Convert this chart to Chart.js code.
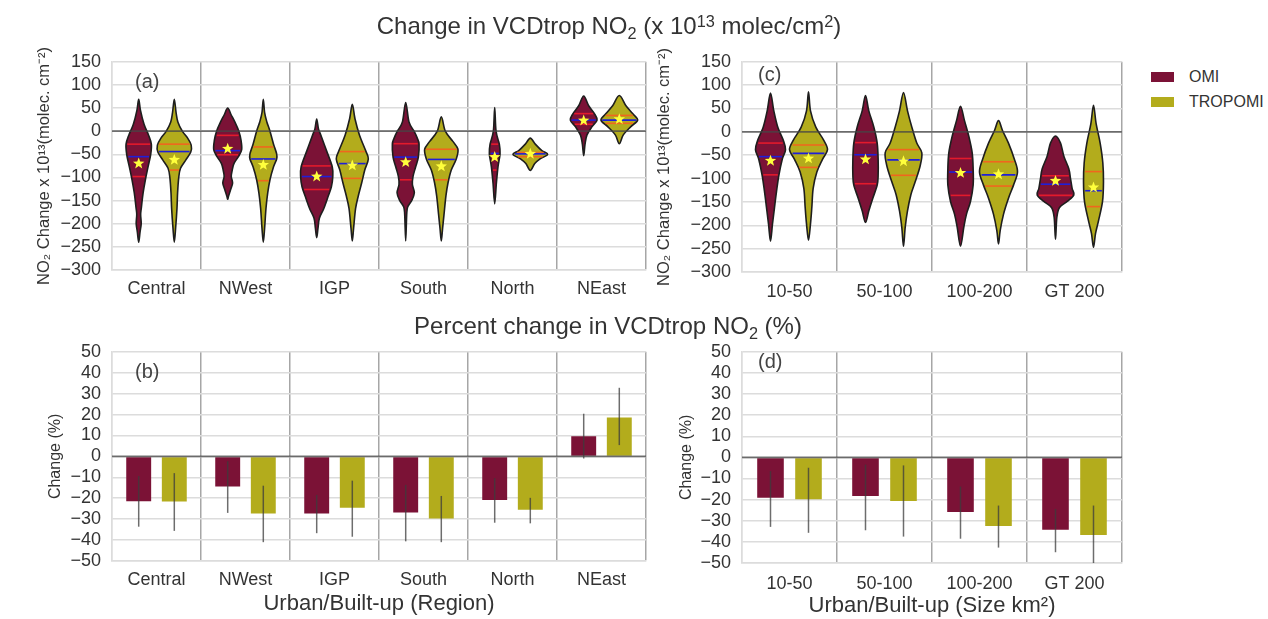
<!DOCTYPE html>
<html>
<head>
<meta charset="utf-8">
<title>Change in VCDtrop NO2</title>
<script src="https://cdn.jsdelivr.net/npm/chart.js@4.4.0/dist/chart.umd.min.js"></script>
<style>
  body { margin: 0; background: #fff; font-family: 'Liberation Sans', Arial, sans-serif; }
  #fig { position: relative; width: 1268px; height: 619px; overflow: hidden; background: #fff; }
  .panel { position: absolute; }
  .txt { position: absolute; color: #333; white-space: nowrap; line-height: 1; z-index: 2; }
  .head { font-size: 24px; transform: translateX(-50%); }
  .tag { font-size: 20px; color: #444; }
  .sub { font-size: 0.68em; position: relative; top: 0.3em; }
  .sup { font-size: 0.68em; position: relative; top: -0.45em; }
  .legend { position: absolute; left: 1151px; top: 64px; font-size: 16px; color: #333; }
  .legend div { display: flex; align-items: center; height: 25px; }
  .legend span.patch { display: inline-block; width: 23px; height: 10px; margin-right: 15px; }
</style>
</head>
<body>
<div id="fig">
  <div class="txt head" style="left:609px; top:14px;">Change in VCDtrop NO<span class="sub">2</span> (x 10<span class="sup">13</span> molec/cm<span class="sup">2</span>)</div>
  <div class="txt head" style="left:608px; top:314px;">Percent change in VCDtrop NO<span class="sub">2</span> (%)</div>

  <div class="txt tag" style="left:135px; top:71px;">(a)</div>
  <div class="txt tag" style="left:135px; top:361px;">(b)</div>
  <div class="txt tag" style="left:758px; top:64px;">(c)</div>
  <div class="txt tag" style="left:758px; top:351px;">(d)</div>

  <div class="legend">
    <div><span class="patch" style="background:#7b1236"></span>OMI</div>
    <div><span class="patch" style="background:#b3ac1c"></span>TROPOMI</div>
  </div>

  <div class="panel" style="left:30px; top:40px;"><canvas id="chartA" width="625" height="275"></canvas></div>
  <div class="panel" style="left:30px; top:330px;"><canvas id="chartB" width="625" height="289"></canvas></div>
  <div class="panel" style="left:655px; top:40px;"><canvas id="chartC" width="477" height="275"></canvas></div>
  <div class="panel" style="left:655px; top:330px;"><canvas id="chartD" width="477" height="289"></canvas></div>
</div>

<script>
// ---- data ----
const regions = ['Central', 'NWest', 'IGP', 'South', 'North', 'NEast'];
const sizes = ['10-50', '50-100', '100-200', 'GT 200'];

// violin outlines: [value, half width as a fraction of one category], top to bottom
const omiRegionShape = [
  [[69,0],[45,.02],[15,.06],[-8,.11],[-28,.142],[-50,.135],[-77,.105],[-105,.075],[-133,.05],[-165,.03],[-180,.022],[-200,.028],[-218,.015],[-240,0]],
  [[50,0],[35,.04],[20,.08],[0,.125],[-20,.15],[-40,.157],[-55,.12],[-70,.07],[-85,.05],[-98,.04],[-112,.055],[-125,.035],[-140,.01],[-147,0]],
  [[26,0],[5,.02],[-8,.045],[-42,.11],[-77,.175],[-100,.18],[-120,.165],[-140,.13],[-167,.08],[-188,.03],[-209,.015],[-230,0]],
  [[62,0],[20,.037],[0,.094],[-15,.13],[-28,.15],[-56,.142],[-77,.112],[-98,.082],[-115,.075],[-133,.097],[-150,.067],[-164,.022],[-181,.011],[-237,0]],
  [[51,0],[0,.015],[-28,.052],[-49,.06],[-77,.037],[-112,.019],[-157,0]],
  [[76,0],[55,.056],[38,.12],[24,.15],[10,.094],[-8,.037],[-28,.015],[-53,0]]
];
const tropRegionShape = [
  [[69,0],[40,.02],[20,.04],[0,.09],[-15,.15],[-30,.19],[-45,.185],[-62,.13],[-80,.07],[-100,.05],[-133,.037],[-167,.03],[-209,.015],[-240,0]],
  [[69,0],[40,.015],[20,.04],[0,.075],[-28,.115],[-49,.15],[-60,.15],[-77,.115],[-105,.075],[-133,.05],[-167,.03],[-209,.015],[-240,0]],
  [[58,0],[27,.03],[-8,.08],[-42,.15],[-60,.18],[-84,.14],[-112,.105],[-140,.067],[-167,.037],[-209,.015],[-237,0]],
  [[31,0],[0,.045],[-22,.13],[-39,.187],[-60,.168],[-84,.112],[-112,.075],[-140,.052],[-181,.03],[-209,.015],[-237,0]],
  [[-15,0],[-28,.056],[-42,.13],[-50,.195],[-60,.11],[-70,.05],[-85,0]],
  [[77,0],[55,.075],[38,.15],[24,.206],[10,.13],[-8,.045],[-27,0]]
];
const omiRegionUpper  = [-28, -9, -75, -27, -28, 38];
const omiRegionMedian = [-55, -42, -98, -56, -48, 24];
const omiRegionLower  = [-98, -51, -126, -105, -84, 15];
const omiRegionMean   = [-70, -38, -98, -67, -56, 23];
const tropRegionUpper  = [-28, -34, -44, -39, -46, 34];
const tropRegionMedian = [-44, -60, -70, -61, -49, 24];
const tropRegionLower  = [-84, -107, -102, -105, -55, 17];
const tropRegionMean   = [-62, -73, -74, -76, -49, 26];

const omiSizeShape = [
  [[83,0],[45,.035],[10,.077],[-17,.133],[-38,.158],[-59,.123],[-93,.088],[-128,.063],[-162,.042],[-197,.021],[-234,0]],
  [[78,0],[45,.035],[10,.088],[-24,.123],[-59,.133],[-93,.133],[-114,.123],[-142,.077],[-169,.035],[-194,0]],
  [[55,0],[24,.042],[-10,.088],[-45,.123],[-79,.133],[-114,.133],[-149,.105],[-176,.063],[-204,.035],[-245,0]],
  [[-9,0],[-24,.053],[-52,.088],[-79,.14],[-100,.158],[-121,.175],[-135,.193],[-149,.123],[-162,.042],[-183,.014],[-230,0]]
];
const tropSizeShape = [
  [[86,0],[45,.021],[10,.077],[-17,.158],[-38,.2],[-59,.147],[-86,.088],[-121,.049],[-162,.035],[-197,.021],[-232,0]],
  [[84,0],[45,.042],[10,.088],[-24,.14],[-45,.193],[-73,.175],[-107,.123],[-135,.077],[-169,.042],[-204,.018],[-245,0]],
  [[24,0],[3,.042],[-24,.105],[-59,.168],[-86,.2],[-114,.158],[-142,.105],[-176,.053],[-211,.018],[-240,0]],
  [[57,0],[17,.028],[-24,.07],[-66,.098],[-107,.105],[-149,.095],[-190,.053],[-218,.021],[-247,0]]
];
const omiSizeUpper  = [-24, -23, -57, -94];
const omiSizeMedian = [-53, -49, -86, -112];
const omiSizeLower  = [-92, -111, -136, -136];
const omiSizeMean   = [-62, -59, -88, -105];
const tropSizeUpper  = [-28, -38, -64, -85];
const tropSizeMedian = [-46, -60, -92, -126];
const tropSizeLower  = [-76, -93, -116, -160];
const tropSizeMean   = [-57, -63, -91, -119];

// percent change bars with error ranges
const omiRegionPct = [-21.4, -14.4, -27.3, -26.8, -20.9, 9.6];
const omiRegionPctLow  = [-33.6, -27, -36.7, -40.6, -31.7, -1];
const omiRegionPctHigh = [-9.4, -2.3, -18.4, -13.6, -10.4, 20.4];
const tropRegionPct = [-21.5, -27.3, -24.5, -29.7, -25.5, 18.6];
const tropRegionPctLow  = [-35.6, -41, -38.4, -41, -32, 5.4];
const tropRegionPctHigh = [-8, -14, -11.6, -18.9, -19.8, 32.8];

const omiSizePct = [-19.1, -18.3, -25.8, -34.2];
const omiSizePctLow  = [-32.9, -34.5, -38.5, -44.9];
const omiSizePctHigh = [-6.5, -3.4, -13.8, -24.4];
const tropSizePct = [-19.8, -20.6, -32.5, -36.8];
const tropSizePctLow  = [-35.7, -37.5, -42.7, -50];
const tropSizePctHigh = [-4.9, -3.8, -22.8, -22.8];

// ---- styling ----
const OMI_COLOR = '#7b1236';
const TROP_COLOR = '#b3ac1c';
const TEXT_COLOR = '#333';
Chart.defaults.font.family = "'Liberation Sans', Arial, sans-serif";
Chart.defaults.color = TEXT_COLOR;

const fmt = v => (v < 0 ? '\u2212' + Math.abs(v) : String(v));

function widthAt(shape, v) {
  for (let k = 0; k < shape.length - 1; k++) {
    const [v0, w0] = shape[k], [v1, w1] = shape[k + 1];
    if (v <= v0 && v >= v1) return w0 + (w1 - w0) * (v0 - v) / (v0 - v1);
  }
  return 0;
}

// closed catmull-rom curve through the outline points
function closedSpline(ctx, pts) {
  const n = pts.length;
  ctx.moveTo(pts[0].x, pts[0].y);
  for (let i = 0; i < n; i++) {
    const p0 = pts[(i - 1 + n) % n], p1 = pts[i], p2 = pts[(i + 1) % n], p3 = pts[(i + 2) % n];
    ctx.bezierCurveTo(
      p1.x + (p2.x - p0.x) / 6, p1.y + (p2.y - p0.y) / 6,
      p2.x - (p3.x - p1.x) / 6, p2.y - (p3.y - p1.y) / 6,
      p2.x, p2.y);
  }
}

function drawStar(ctx, cx, cy, r) {
  ctx.beginPath();
  for (let k = 0; k < 10; k++) {
    const rad = k % 2 ? r * 0.42 : r;
    const a = -Math.PI / 2 + k * Math.PI / 5;
    ctx.lineTo(cx + rad * Math.cos(a), cy + rad * Math.sin(a));
  }
  ctx.closePath();
  ctx.fillStyle = '#ffff3c';
  ctx.fill();
}

// violins are drawn on top of the (invisible) floating bars that hold their extents
const violinPlugin = {
  id: 'violins',
  afterDatasetDraw(chart, args) {
    const ds = chart.data.datasets[args.index];
    if (!ds.violin) return;
    const v = ds.violin;
    const ctx = chart.ctx, xs = chart.scales.x, ys = chart.scales.y;
    const unit = xs.getPixelForValue(1) - xs.getPixelForValue(0);
    ctx.save();
    args.meta.data.forEach((bar, i) => {
      const shape = v.shape[i];
      const right = shape.map(([val, w]) => ({ x: bar.x + w * unit, y: ys.getPixelForValue(val) }));
      const left = shape.slice(1, -1).reverse().map(([val, w]) => ({ x: bar.x - w * unit, y: ys.getPixelForValue(val) }));
      ctx.beginPath();
      closedSpline(ctx, right.concat(left));
      ctx.closePath();
      ctx.fillStyle = v.fill;
      ctx.fill();
      ctx.lineWidth = 1.6;
      ctx.strokeStyle = '#1e1e1e';
      ctx.stroke();

      const lines = [[v.upper[i], v.qColor], [v.median[i], '#1f1fd8'], [v.lower[i], v.qColor]];
      lines.forEach(([val, col]) => {
        const hw = widthAt(shape, val) * unit - 1.2;
        const py = ys.getPixelForValue(val);
        ctx.beginPath();
        ctx.moveTo(bar.x - hw, py);
        ctx.lineTo(bar.x + hw, py);
        ctx.lineWidth = 1.6;
        ctx.strokeStyle = col;
        ctx.stroke();
      });
      drawStar(ctx, bar.x, ys.getPixelForValue(v.mean[i]), 6);
    });
    ctx.restore();
  }
};

// error bars for the percent-change panels
const errorBarPlugin = {
  id: 'errorBars',
  afterDatasetsDraw(chart) {
    const ctx = chart.ctx, ys = chart.scales.y;
    ctx.save();
    chart.data.datasets.forEach((ds, d) => {
      if (!ds.errLow) return;
      chart.getDatasetMeta(d).data.forEach((bar, i) => {
        ctx.beginPath();
        ctx.moveTo(bar.x, ys.getPixelForValue(ds.errLow[i]));
        ctx.lineTo(bar.x, ys.getPixelForValue(ds.errHigh[i]));
        ctx.lineWidth = 1.5;
        ctx.strokeStyle = 'rgba(60,60,60,0.75)';
        ctx.stroke();
      });
    });
    ctx.restore();
  }
};

// the zero line sits above the marks
const zeroLinePlugin = {
  id: 'zeroLine',
  afterDatasetsDraw(chart) {
    const { ctx, chartArea } = chart;
    const py = chart.scales.y.getPixelForValue(0);
    ctx.save();
    ctx.beginPath();
    ctx.moveTo(chartArea.left, py);
    ctx.lineTo(chartArea.right, py);
    ctx.lineWidth = 1.8;
    ctx.strokeStyle = 'rgba(70,70,70,0.75)';
    ctx.stroke();
    ctx.restore();
  }
};

function axes(labels, yMin, yMax, yStep, yTitle, cfg) {
  const n = labels.length;
  return {
    x: {
      grid: {
        color: c => (c.index === 0 || c.index >= n) ? '#dcdcdc' : '#a6a6a6',
        lineWidth: 1.5,
        drawTicks: false
      },
      border: { display: true, color: '#dcdcdc', width: 1.5 },
      ticks: { font: { size: 18 }, color: TEXT_COLOR, padding: cfg.xPad, autoSkip: false, maxRotation: 0 },
      title: cfg.xTitle
        ? { display: true, text: cfg.xTitle, font: { size: 22 }, color: TEXT_COLOR, padding: { top: 0, bottom: cfg.xTitlePad } }
        : { display: false },
      afterFit: s => { s.height = cfg.xHeight; }
    },
    y: {
      min: yMin,
      max: yMax,
      ticks: { stepSize: yStep, font: { size: 18 }, color: TEXT_COLOR, padding: 11, autoSkip: false, callback: fmt },
      grid: { color: '#dcdcdc', lineWidth: 1.5, drawTicks: false },
      border: { display: true, color: '#dcdcdc', width: 1.5 },
      title: { display: true, text: yTitle, font: { size: cfg.yTitleSize }, color: TEXT_COLOR, padding: { top: cfg.yTitlePad, bottom: 0 } },
      afterFit: s => { s.width = cfg.yWidth; }
    }
  };
}

function extent(shapes) {
  return shapes.map(s => [s[s.length - 1][0], s[0][0]]);
}

function violinChart(id, labels, omi, trop, yTitle, cfg) {
  new Chart(document.getElementById(id), {
    type: 'bar',
    data: {
      labels: labels,
      datasets: [
        { label: 'OMI', data: extent(omi.shape), backgroundColor: 'rgba(0,0,0,0)', borderWidth: 0,
          categoryPercentage: 0.8, barPercentage: 1, violin: Object.assign({ fill: OMI_COLOR, qColor: '#e31a2c' }, omi) },
        { label: 'TROPOMI', data: extent(trop.shape), backgroundColor: 'rgba(0,0,0,0)', borderWidth: 0,
          categoryPercentage: 0.8, barPercentage: 1, violin: Object.assign({ fill: TROP_COLOR, qColor: '#f0661e' }, trop) }
      ]
    },
    options: {
      responsive: false,
      animation: false,
      layout: { padding: { top: cfg.top, right: cfg.right, left: 0, bottom: 0 } },
      plugins: { legend: { display: false }, tooltip: { enabled: false } },
      scales: axes(labels, -300, 150, 50, yTitle, cfg)
    },
    plugins: [violinPlugin, zeroLinePlugin]
  });
}

function barChart(id, labels, omi, trop, yTitle, cfg) {
  new Chart(document.getElementById(id), {
    type: 'bar',
    data: {
      labels: labels,
      datasets: [
        { label: 'OMI', data: omi.values, backgroundColor: OMI_COLOR, borderWidth: 0,
          categoryPercentage: 0.8, barPercentage: 0.7, errLow: omi.low, errHigh: omi.high },
        { label: 'TROPOMI', data: trop.values, backgroundColor: TROP_COLOR, borderWidth: 0,
          categoryPercentage: 0.8, barPercentage: 0.7, errLow: trop.low, errHigh: trop.high }
      ]
    },
    options: {
      responsive: false,
      animation: false,
      layout: { padding: { top: cfg.top, right: cfg.right, left: 0, bottom: 0 } },
      plugins: { legend: { display: false }, tooltip: { enabled: false } },
      scales: axes(labels, -50, 50, 10, yTitle, cfg)
    },
    plugins: [errorBarPlugin, zeroLinePlugin]
  });
}

const no2Title = 'NO\u2082 Change x 10\u00b9\u00b3(molec. cm\u207b\u00b2)';

violinChart('chartA', regions,
  { shape: omiRegionShape, upper: omiRegionUpper, median: omiRegionMedian, lower: omiRegionLower, mean: omiRegionMean },
  { shape: tropRegionShape, upper: tropRegionUpper, median: tropRegionMedian, lower: tropRegionLower, mean: tropRegionMean },
  no2Title,
  { top: 14, right: 9, yWidth: 82, xHeight: 45, xPad: 8, yTitleSize: 16.5, yTitlePad: 5 });

violinChart('chartC', sizes,
  { shape: omiSizeShape, upper: omiSizeUpper, median: omiSizeMedian, lower: omiSizeLower, mean: omiSizeMean },
  { shape: tropSizeShape, upper: tropSizeUpper, median: tropSizeMedian, lower: tropSizeLower, mean: tropSizeMean },
  no2Title,
  { top: 16, right: 10, yWidth: 87, xHeight: 43, xPad: 9, yTitleSize: 16.5, yTitlePad: 0 });

barChart('chartB', regions,
  { values: omiRegionPct, low: omiRegionPctLow, high: omiRegionPctHigh },
  { values: tropRegionPct, low: tropRegionPctLow, high: tropRegionPctHigh },
  'Change (%)',
  { top: 16, right: 9, yWidth: 82, xHeight: 58, xPad: 8, yTitleSize: 16, yTitlePad: 16.4,
    xTitle: 'Urban/Built-up (Region)', xTitlePad: 1.8 });

barChart('chartD', sizes,
  { values: omiSizePct, low: omiSizePctLow, high: omiSizePctHigh },
  { values: tropSizePct, low: tropSizePctLow, high: tropSizePctHigh },
  'Change (%)',
  { top: 18, right: 10, yWidth: 87, xHeight: 56, xPad: 10, yTitleSize: 16, yTitlePad: 22.4,
    xTitle: 'Urban/Built-up (Size km\u00b2)', xTitlePad: 0 });
</script>
</body>
</html>
